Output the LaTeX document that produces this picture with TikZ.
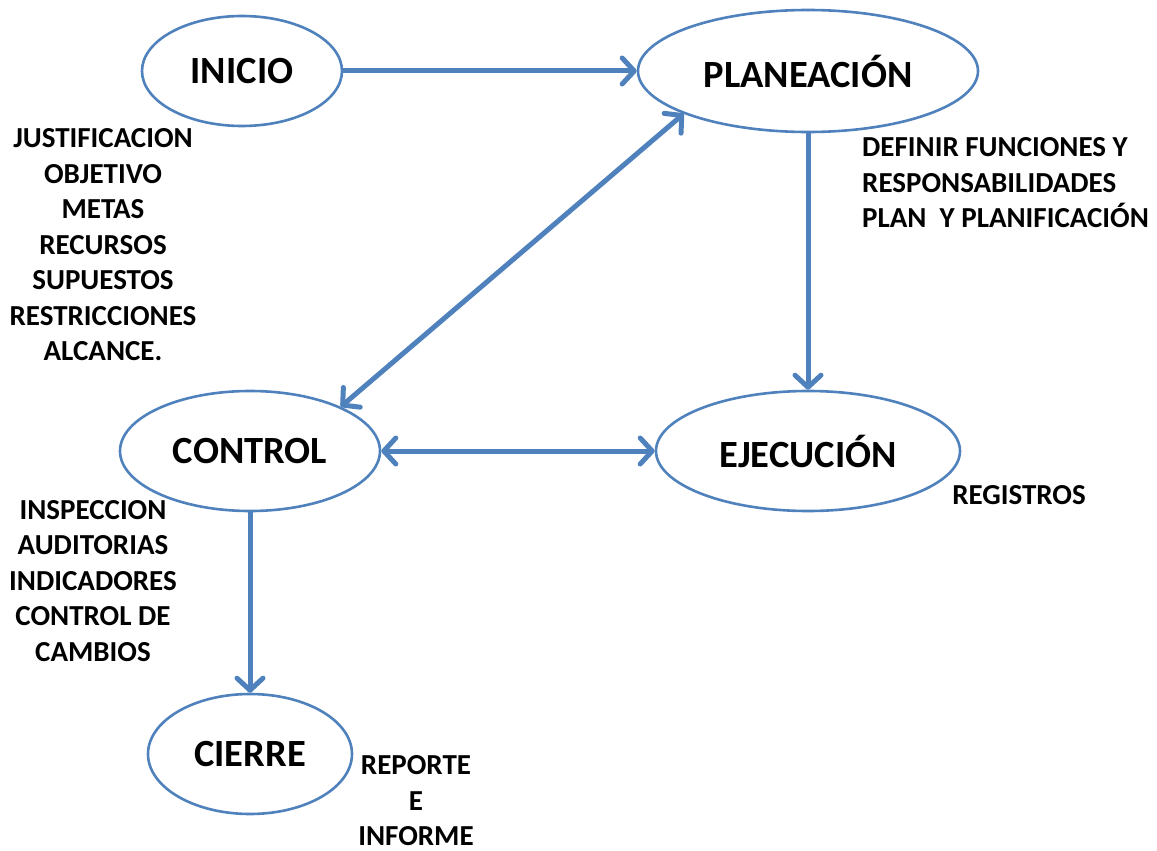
\documentclass[tikz,border=0pt]{standalone}
\usepackage{fontspec}
\setmainfont{Carlito}
\usetikzlibrary{shapes.geometric,arrows.meta}
\definecolor{stepblue}{HTML}{4F81BD}
\begin{document}
\begin{tikzpicture}[x=1pt,y=-1pt,
  phase/.style={ellipse,draw=stepblue,line width=2.6pt,fill=white,inner sep=0pt,
    font=\fontsize{38.5}{44}\selectfont\bfseries},
  barb/.tip={Straight Barb[length=12pt,width=26pt,line width=5pt,line cap=round,line join=round]},
  link/.style={draw=stepblue,line width=5pt,-barb},
  dlink/.style={draw=stepblue,line width=5pt,barb-barb},
  note/.style={align=center,inner sep=0pt,font=\fontsize{29}{35.5}\selectfont\bfseries}]
\useasboundingbox (0,0) rectangle (1157,851);

% phases
\node[phase,minimum width=200pt,minimum height=110pt] (ini) at (242,71) {INICIO};
\node[phase,minimum width=340pt,minimum height=122pt] (pla) at (808,71) {PLANEACIÓN};
\node[phase,minimum width=260pt,minimum height=120pt] (con) at (250,451) {CONTROL};
\node[phase,minimum width=304pt,minimum height=120pt] (eje) at (808,451) {EJECUCIÓN};
\node[phase,minimum width=204pt,minimum height=120pt] (cie) at (250,754) {CIERRE};

% connectors
\draw[link] (ini.east) -- (pla.west);
\draw[link] (pla.south) -- (eje.north);
\draw[dlink] (pla.-161) -- (con.26);
\draw[dlink] (con.east) -- (eje.west);
\draw[link] (con.south) -- (cie.north);

% notes
\node[note] (nini) at (103,245) {JUSTIFICACION\\OBJETIVO\\METAS\\RECURSOS\\SUPUESTOS\\RESTRICCIONES\\ALCANCE.};
\node[note,align=left,anchor=west] (npla) at (862,183) {DEFINIR FUNCIONES Y\\RESPONSABILIDADES\\PLAN\ \ Y PLANIFICACIÓN};
\node[note] (neje) at (1019,495) {REGISTROS};
\node[note] (ncon) at (93,581) {INSPECCION\\AUDITORIAS\\INDICADORES\\CONTROL DE\\CAMBIOS};
\node[note] (ncie) at (416,801) {REPORTE\\E\\INFORME};
\end{tikzpicture}
\end{document}
